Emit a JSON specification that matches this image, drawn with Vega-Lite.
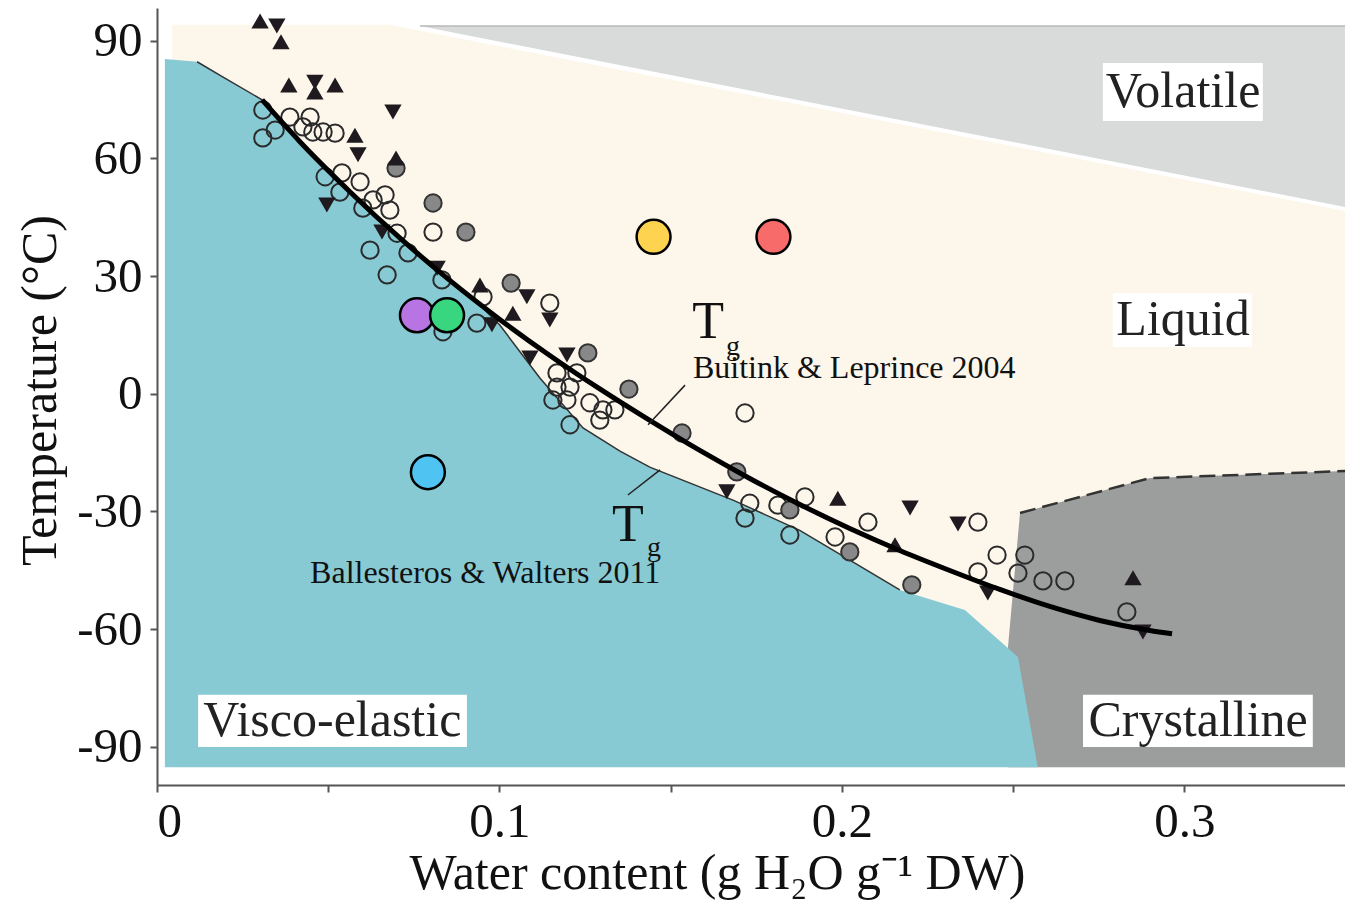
{
  "$schema": "https://vega.github.io/schema/vega-lite/v6.json",
  "autosize": "none",
  "width": 1188,
  "height": 777,
  "padding": {"left": 157, "top": 8, "right": 0, "bottom": 118},
  "background": "white",
  "config": {
    "view": {"stroke": null},
    "font": "Liberation Serif",
    "axis": {
      "grid": false,
      "domainColor": "#555",
      "domainWidth": 2,
      "tickColor": "#555",
      "tickWidth": 2,
      "tickSize": 7,
      "labelFont": "Liberation Serif",
      "labelFontSize": 49,
      "labelColor": "#111",
      "titleFont": "Liberation Serif",
      "titleFontSize": 50,
      "titleFontWeight": "normal",
      "titleColor": "#111"
    }
  },
  "datasets": {
    "cream": [
      {"x": 0.0044, "T": 94.0, "T2": -95.2},
      {"x": 0.068, "T": 94.0, "T2": -95.2},
      {"x": 0.3469, "T": 46.6, "T2": -95.2}
    ],
    "volatile": [
      {"x": 0.0768, "T": 93.7, "T2": 93.7},
      {"x": 0.3469, "T": 93.7, "T2": 47.6}
    ],
    "voltop": [
      {"x": 0.0768, "T": 93.7},
      {"x": 0.3469, "T": 93.7}
    ],
    "crystal": [
      {"x": 0.2485, "T": -64.5, "T2": -95.2},
      {"x": 0.252, "T": -30.4, "T2": -95.2},
      {"x": 0.2899, "T": -21.5, "T2": -95.2},
      {"x": 0.3469, "T": -19.7, "T2": -95.2}
    ],
    "dash": [
      {"x": 0.252, "T": -30.4},
      {"x": 0.2899, "T": -21.5},
      {"x": 0.3469, "T": -19.7}
    ],
    "teal": [
      {"x": 0.0023, "T": 85.3, "T2": -95.2},
      {"x": 0.0117, "T": 84.6, "T2": -95.2},
      {"x": 0.0193, "T": 80.7, "T2": -95.2},
      {"x": 0.0307, "T": 74.9, "T2": -95.2},
      {"x": 0.0418, "T": 64.2, "T2": -95.2},
      {"x": 0.0564, "T": 51.4, "T2": -95.2},
      {"x": 0.0709, "T": 39.7, "T2": -95.2},
      {"x": 0.0855, "T": 28.9, "T2": -95.2},
      {"x": 0.0928, "T": 23.9, "T2": -95.2},
      {"x": 0.1001, "T": 17.5, "T2": -95.2},
      {"x": 0.1118, "T": 4.0, "T2": -95.2},
      {"x": 0.1244, "T": -8.7, "T2": -95.2},
      {"x": 0.1352, "T": -14.6, "T2": -95.2},
      {"x": 0.1439, "T": -18.7, "T2": -95.2},
      {"x": 0.1682, "T": -27.1, "T2": -95.2},
      {"x": 0.1877, "T": -34.8, "T2": -95.2},
      {"x": 0.2023, "T": -42.4, "T2": -95.2},
      {"x": 0.2169, "T": -50.0, "T2": -95.2},
      {"x": 0.2359, "T": -55.1, "T2": -95.2},
      {"x": 0.2482, "T": -64.6, "T2": -95.2},
      {"x": 0.2514, "T": -67.1, "T2": -95.2},
      {"x": 0.2572, "T": -95.2, "T2": -95.2}
    ],
    "ballesteros": [
      {"x": 0.0117, "T": 84.6},
      {"x": 0.0193, "T": 80.7},
      {"x": 0.0307, "T": 74.9},
      {"x": 0.0418, "T": 64.2},
      {"x": 0.0564, "T": 51.4},
      {"x": 0.0709, "T": 39.7},
      {"x": 0.0855, "T": 28.9},
      {"x": 0.0928, "T": 23.9},
      {"x": 0.1001, "T": 17.5},
      {"x": 0.1118, "T": 4.0},
      {"x": 0.1244, "T": -8.7},
      {"x": 0.1352, "T": -14.6},
      {"x": 0.1439, "T": -18.7},
      {"x": 0.1682, "T": -27.1},
      {"x": 0.1877, "T": -34.8},
      {"x": 0.2023, "T": -42.4},
      {"x": 0.2169, "T": -50.0}
    ],
    "tg": [
      {"x": 0.0307, "T": 74.87},
      {"x": 0.0418, "T": 64.17},
      {"x": 0.0564, "T": 51.43},
      {"x": 0.0709, "T": 39.71},
      {"x": 0.0855, "T": 28.88},
      {"x": 0.1001, "T": 18.94},
      {"x": 0.1147, "T": 9.76},
      {"x": 0.1293, "T": 1.22},
      {"x": 0.1439, "T": -6.8},
      {"x": 0.1585, "T": -14.45},
      {"x": 0.1731, "T": -21.58},
      {"x": 0.1877, "T": -28.21},
      {"x": 0.2023, "T": -34.33},
      {"x": 0.2169, "T": -39.93},
      {"x": 0.2315, "T": -45.03},
      {"x": 0.2461, "T": -49.87},
      {"x": 0.2607, "T": -54.21},
      {"x": 0.2753, "T": -57.77},
      {"x": 0.2899, "T": -60.32},
      {"x": 0.2964, "T": -61.16}
    ],
    "obs": [
      {"x": 0.0301, "T": 95.0, "type": "up"},
      {"x": 0.0362, "T": 89.7, "type": "up"},
      {"x": 0.0385, "T": 78.7, "type": "up"},
      {"x": 0.0461, "T": 76.9, "type": "up"},
      {"x": 0.052, "T": 78.7, "type": "up"},
      {"x": 0.0578, "T": 65.9, "type": "up"},
      {"x": 0.0698, "T": 60.1, "type": "up"},
      {"x": 0.0943, "T": 27.7, "type": "up"},
      {"x": 0.1039, "T": 20.5, "type": "up"},
      {"x": 0.1988, "T": -26.6, "type": "up"},
      {"x": 0.2155, "T": -38.5, "type": "up"},
      {"x": 0.285, "T": -46.9, "type": "up"},
      {"x": 0.035, "T": 93.7, "type": "down"},
      {"x": 0.0461, "T": 79.4, "type": "down"},
      {"x": 0.0689, "T": 71.8, "type": "down"},
      {"x": 0.0587, "T": 60.9, "type": "down"},
      {"x": 0.0496, "T": 48.1, "type": "down"},
      {"x": 0.0657, "T": 41.2, "type": "down"},
      {"x": 0.0818, "T": 32.0, "type": "down"},
      {"x": 0.108, "T": 24.7, "type": "down"},
      {"x": 0.1147, "T": 18.8, "type": "down"},
      {"x": 0.0978, "T": 17.6, "type": "down"},
      {"x": 0.1089, "T": 9.1, "type": "down"},
      {"x": 0.1197, "T": 9.9, "type": "down"},
      {"x": 0.1664, "T": -25.0, "type": "down"},
      {"x": 0.2199, "T": -29.1, "type": "down"},
      {"x": 0.2339, "T": -33.2, "type": "down"},
      {"x": 0.2426, "T": -50.8, "type": "down"},
      {"x": 0.2879, "T": -60.7, "type": "down"},
      {"x": 0.0698, "T": 57.5, "type": "gray"},
      {"x": 0.0806, "T": 48.6, "type": "gray"},
      {"x": 0.0902, "T": 41.2, "type": "gray"},
      {"x": 0.1034, "T": 28.2, "type": "gray"},
      {"x": 0.1258, "T": 10.4, "type": "gray"},
      {"x": 0.1378, "T": 1.2, "type": "gray"},
      {"x": 0.1533, "T": -10.0, "type": "gray"},
      {"x": 0.1693, "T": -19.9, "type": "gray"},
      {"x": 0.1848, "T": -29.6, "type": "gray"},
      {"x": 0.2023, "T": -40.3, "type": "gray"},
      {"x": 0.2204, "T": -48.7, "type": "gray"},
      {"x": 0.0309, "T": 72.3, "type": "open"},
      {"x": 0.0345, "T": 67.2, "type": "open"},
      {"x": 0.0309, "T": 65.2, "type": "open"},
      {"x": 0.0388, "T": 70.5, "type": "open"},
      {"x": 0.0447, "T": 70.5, "type": "open"},
      {"x": 0.0426, "T": 68.0, "type": "open"},
      {"x": 0.0455, "T": 66.7, "type": "open"},
      {"x": 0.0485, "T": 66.7, "type": "open"},
      {"x": 0.052, "T": 66.4, "type": "open"},
      {"x": 0.0491, "T": 55.3, "type": "open"},
      {"x": 0.054, "T": 56.3, "type": "open"},
      {"x": 0.0534, "T": 51.4, "type": "open"},
      {"x": 0.0593, "T": 54.0, "type": "open"},
      {"x": 0.0601, "T": 47.3, "type": "open"},
      {"x": 0.0631, "T": 49.4, "type": "open"},
      {"x": 0.0666, "T": 50.7, "type": "open"},
      {"x": 0.068, "T": 46.8, "type": "open"},
      {"x": 0.0701, "T": 40.9, "type": "open"},
      {"x": 0.0622, "T": 36.6, "type": "open"},
      {"x": 0.0672, "T": 30.3, "type": "open"},
      {"x": 0.0733, "T": 35.9, "type": "open"},
      {"x": 0.0832, "T": 29.0, "type": "open"},
      {"x": 0.0806, "T": 41.2, "type": "open"},
      {"x": 0.0952, "T": 24.7, "type": "open"},
      {"x": 0.0934, "T": 18.0, "type": "open"},
      {"x": 0.0835, "T": 15.8, "type": "open"},
      {"x": 0.1147, "T": 23.1, "type": "open"},
      {"x": 0.1168, "T": 5.3, "type": "open"},
      {"x": 0.1226, "T": 5.3, "type": "open"},
      {"x": 0.1168, "T": 1.7, "type": "open"},
      {"x": 0.1206, "T": 1.7, "type": "open"},
      {"x": 0.1156, "T": -1.6, "type": "open"},
      {"x": 0.1197, "T": -1.6, "type": "open"},
      {"x": 0.1264, "T": -2.3, "type": "open"},
      {"x": 0.1302, "T": -4.1, "type": "open"},
      {"x": 0.1337, "T": -4.1, "type": "open"},
      {"x": 0.1293, "T": -6.7, "type": "open"},
      {"x": 0.1206, "T": -7.9, "type": "open"},
      {"x": 0.1717, "T": -4.9, "type": "open"},
      {"x": 0.1731, "T": -27.9, "type": "open"},
      {"x": 0.1717, "T": -31.7, "type": "open"},
      {"x": 0.1813, "T": -28.4, "type": "open"},
      {"x": 0.1892, "T": -26.3, "type": "open"},
      {"x": 0.1848, "T": -36.0, "type": "open"},
      {"x": 0.198, "T": -36.5, "type": "open"},
      {"x": 0.2076, "T": -32.7, "type": "open"},
      {"x": 0.2397, "T": -32.7, "type": "open"},
      {"x": 0.2453, "T": -41.1, "type": "open"},
      {"x": 0.2534, "T": -41.1, "type": "open"},
      {"x": 0.2397, "T": -45.4, "type": "open"},
      {"x": 0.2514, "T": -45.7, "type": "open"},
      {"x": 0.2587, "T": -47.7, "type": "open"},
      {"x": 0.2651, "T": -47.7, "type": "open"},
      {"x": 0.2832, "T": -55.6, "type": "open"}
    ],
    "seeds": [
      {"x": 0.145, "T": 40, "c": "yellow"},
      {"x": 0.18, "T": 40, "c": "red"},
      {"x": 0.0759, "T": 20, "c": "purple"},
      {"x": 0.0847, "T": 20, "c": "green"},
      {"x": 0.0791, "T": -20, "c": "blue"}
    ],
    "boxes": [
      {"x": 0.2762, "x2": 0.3229, "T": 84.3, "T2": 69.5},
      {"x": 0.2791, "x2": 0.3197, "T": 25.6, "T2": 11.9},
      {"x": 0.2704, "x2": 0.3375, "T": -76.7, "T2": -90.0},
      {"x": 0.012, "x2": 0.0905, "T": -76.7, "T2": -90.0}
    ],
    "labels": [
      {"x": 0.2996, "T": 76.9, "text": "Volatile", "kind": "region"},
      {"x": 0.2996, "T": 18.8, "text": "Liquid", "kind": "region"},
      {"x": 0.304, "T": -83.3, "text": "Crystalline", "kind": "region"},
      {"x": 0.0512, "T": -83.3, "text": "Visco-elastic", "kind": "region"},
      {"x": 0.1609, "T": 18.3, "text": "T", "kind": "T"},
      {"x": 0.1682, "T": 11.9, "text": "g", "kind": "sub"},
      {"x": 0.1565, "T": 6.6, "text": "Buitink & Leprince 2004", "kind": "ref"},
      {"x": 0.1375, "T": -33.5, "text": "T", "kind": "T"},
      {"x": 0.1451, "T": -39.4, "text": "g", "kind": "sub"},
      {"x": 0.0447, "T": -45.7, "text": "Ballesteros & Walters 2011", "kind": "ref"}
    ],
    "leaders": [
      {"x": 0.1542, "T": 2.2, "x2": 0.1434, "T2": -7.9},
      {"x": 0.1469, "T": -19.4, "x2": 0.1375, "T2": -25.8}
    ]
  },
  "encoding": {
    "x": {
      "field": "x",
      "type": "quantitative",
      "scale": {"domain": [0, 0.3469], "nice": false, "zero": false},
      "axis": {
        "title": "Water content (g H₂O g⁻¹ DW)",
        "values": [0, 0.05, 0.1, 0.15, 0.2, 0.25, 0.3],
        "labelExpr": "datum.value == 0 ? '0' : (abs(datum.value * 10 - round(datum.value * 10)) < 0.001 ? format(datum.value, '.1f') : '')",
        "labelPadding": 5,
        "titleX": 560,
        "titleY": 103,
        "titleBaseline": "alphabetic"
      }
    },
    "y": {
      "field": "T",
      "type": "quantitative",
      "scale": {"domain": [-99.7, 98.3], "nice": false, "zero": false},
      "axis": {
        "title": "Temperature (°C)",
        "values": [-90, -60, -30, 0, 30, 60, 90],
        "labelExpr": "'' + datum.value",
        "labelPadding": 8,
        "titleAngle": 270,
        "titleX": -117,
        "titleY": 382,
        "titleBaseline": "middle",
        "titleAlign": "center"
      }
    }
  },
  "layer": [
    {
      "data": {"name": "cream"},
      "mark": {"type": "area", "color": "#FDF6EB", "interpolate": "linear"},
      "encoding": {"y2": {"field": "T2"}}
    },
    {
      "data": {"name": "volatile"},
      "mark": {"type": "area", "color": "#D9DADA", "interpolate": "linear"},
      "encoding": {"y2": {"field": "T2"}}
    },
    {
      "data": {"name": "voltop"},
      "mark": {"type": "line", "color": "#B8B8B8", "strokeWidth": 1.5},
      "encoding": {}
    },
    {
      "data": {"name": "crystal"},
      "mark": {"type": "area", "color": "#9C9D9D", "interpolate": "linear"},
      "encoding": {"y2": {"field": "T2"}}
    },
    {
      "data": {"name": "teal"},
      "mark": {"type": "area", "color": "#87CAD4", "interpolate": "linear"},
      "encoding": {"y2": {"field": "T2"}}
    },
    {
      "data": {"name": "ballesteros"},
      "mark": {"type": "line", "color": "#333", "strokeWidth": 1.5, "interpolate": "linear"},
      "encoding": {}
    },
    {
      "data": {"name": "dash"},
      "mark": {"type": "line", "color": "#333", "strokeWidth": 2.5, "strokeDash": [16, 7]},
      "encoding": {}
    },
    {
      "data": {"name": "boxes"},
      "mark": {"type": "rect", "color": "white"},
      "encoding": {"x2": {"field": "x2"}, "y2": {"field": "T2"}}
    },
    {
      "data": {"name": "labels"},
      "transform": [{"filter": "datum.kind == 'region'"}],
      "mark": {"type": "text", "font": "Liberation Serif", "fontSize": 50, "color": "#222", "align": "center", "baseline": "middle"},
      "encoding": {"text": {"field": "text"}}
    },
    {
      "data": {"name": "obs"},
      "transform": [{"filter": "datum.type == 'open'"}],
      "mark": {"type": "point", "shape": "circle", "filled": false, "stroke": "#2a2a2a", "strokeWidth": 2, "size": 300, "opacity": 1},
      "encoding": {}
    },
    {
      "data": {"name": "obs"},
      "transform": [{"filter": "datum.type == 'gray'"}],
      "mark": {"type": "point", "shape": "circle", "filled": true, "fill": "#888888", "stroke": "#333", "strokeWidth": 2, "size": 300, "opacity": 1},
      "encoding": {}
    },
    {
      "data": {"name": "obs"},
      "transform": [{"filter": "datum.type == 'up'"}],
      "mark": {"type": "point", "shape": "triangle-up", "filled": true, "color": "#1f1a1f", "size": 300, "opacity": 1},
      "encoding": {}
    },
    {
      "data": {"name": "obs"},
      "transform": [{"filter": "datum.type == 'down'"}],
      "mark": {"type": "point", "shape": "triangle-down", "filled": true, "color": "#1f1a1f", "size": 300, "opacity": 1},
      "encoding": {}
    },
    {
      "data": {"name": "tg"},
      "mark": {"type": "line", "color": "black", "strokeWidth": 5, "interpolate": "monotone"},
      "encoding": {}
    },
    {
      "data": {"name": "seeds"},
      "mark": {"type": "point", "shape": "circle", "filled": true, "stroke": "black", "strokeWidth": 2.5, "size": 1150, "opacity": 1},
      "encoding": {
        "fill": {
          "field": "c",
          "type": "nominal",
          "scale": {"domain": ["yellow", "red", "purple", "green", "blue"], "range": ["#FDD34F", "#F86B6B", "#B974E3", "#38D67F", "#4FC4F2"]},
          "legend": null
        }
      }
    },
    {
      "data": {"name": "leaders"},
      "mark": {"type": "rule", "color": "#222", "strokeWidth": 1.5},
      "encoding": {"x2": {"field": "x2"}, "y2": {"field": "T2"}}
    },
    {
      "data": {"name": "labels"},
      "transform": [{"filter": "datum.kind == 'T'"}],
      "mark": {"type": "text", "font": "Liberation Serif", "fontSize": 52, "color": "#111", "align": "center", "baseline": "middle"},
      "encoding": {"text": {"field": "text"}}
    },
    {
      "data": {"name": "labels"},
      "transform": [{"filter": "datum.kind == 'sub'"}],
      "mark": {"type": "text", "font": "Liberation Serif", "fontSize": 28, "color": "#111", "align": "center", "baseline": "middle"},
      "encoding": {"text": {"field": "text"}}
    },
    {
      "data": {"name": "labels"},
      "transform": [{"filter": "datum.kind == 'ref'"}],
      "mark": {"type": "text", "font": "Liberation Serif", "fontSize": 32, "color": "#111", "align": "left", "baseline": "middle"},
      "encoding": {"text": {"field": "text"}}
    }
  ]
}
